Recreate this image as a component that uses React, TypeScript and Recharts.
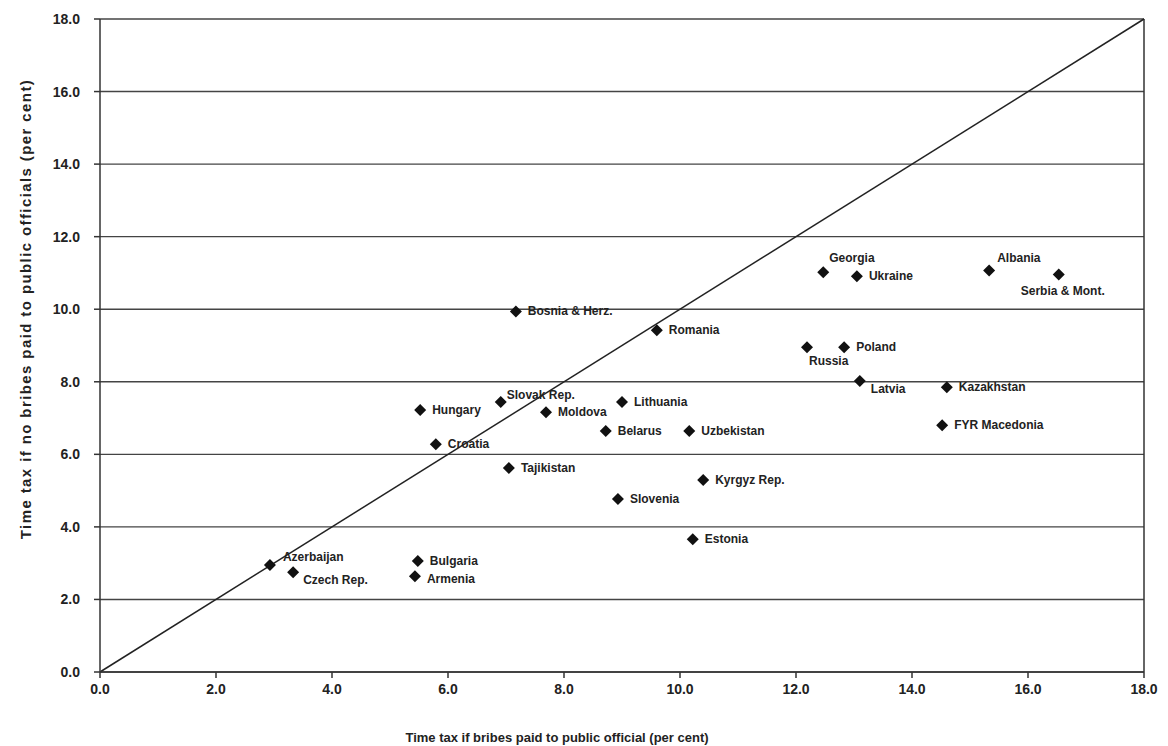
import React from 'react';
import {
  ScatterChart,
  Scatter,
  XAxis,
  YAxis,
  CartesianGrid,
  ReferenceLine,
} from 'recharts';

const countries = [
  'Azerbaijan', 'Czech Rep.', 'Bulgaria', 'Armenia', 'Hungary', 'Croatia',
  'Slovak Rep.', 'Bosnia & Herz.', 'Tajikistan', 'Moldova', 'Lithuania',
  'Belarus', 'Slovenia', 'Romania', 'Uzbekistan', 'Kyrgyz Rep.', 'Estonia',
  'Georgia', 'Ukraine', 'Russia', 'Poland', 'Latvia', 'Kazakhstan',
  'FYR Macedonia', 'Albania', 'Serbia & Mont.',
];

// time tax if bribes paid (x)
const withBribes = [
  2.93, 3.33, 5.48, 5.43, 5.52, 5.79, 6.91, 7.17, 7.05, 7.69, 9.0, 8.72,
  8.93, 9.6, 10.16, 10.4, 10.22, 12.47, 13.05, 12.19, 12.83, 13.1, 14.6,
  14.52, 15.33, 16.53,
];

// time tax if no bribes paid (y)
const withoutBribes = [
  2.95, 2.75, 3.06, 2.64, 7.22, 6.28, 7.44, 9.94, 5.62, 7.16, 7.44, 6.64,
  4.77, 9.42, 6.64, 5.29, 3.66, 11.02, 10.91, 8.95, 8.95, 8.02, 7.85, 6.8,
  11.07, 10.96,
];

const ticks = [0, 2, 4, 6, 8, 10, 12, 14, 16, 18];

// label placement relative to the marker (dx, dy)
const labelPos: Record<string, [number, number]> = {
  Azerbaijan: [13, -4],
  'Czech Rep.': [10, 12],
  Armenia: [12, 7],
  'Slovak Rep.': [6, -3],
  Georgia: [6, -10],
  Albania: [8, -8],
  'Serbia & Mont.': [-38, 21],
  Russia: [2, 18],
  Latvia: [11, 12],
};

const data = countries.map((name, i) => ({
  name,
  x: withBribes[i],
  y: withoutBribes[i],
}));

const fmt = (v: number) => v.toFixed(1);
const FONT = 'Liberation Sans, Arial, sans-serif';

const Diamond = (props: any) => {
  const { cx, cy, payload } = props;
  const [dx, dy] = labelPos[payload.name] || [12, 4];
  const r = 6;
  return (
    <g>
      <polygon
        points={`${cx},${cy - r} ${cx + r},${cy} ${cx},${cy + r} ${cx - r},${cy}`}
        fill="#111"
      />
      <text
        x={cx + dx}
        y={cy + dy}
        fontSize={12}
        fontWeight="bold"
        fill="#222"
        fontFamily={FONT}
      >
        {payload.name}
      </text>
    </g>
  );
};

const tickStyle = {
  fontSize: 14,
  fontWeight: 'bold',
  fill: '#222',
  fontFamily: FONT,
};

const YTitle = () => (
  <text
    x={25}
    y={309}
    transform="rotate(-90, 25, 309)"
    textAnchor="middle"
    dominantBaseline="central"
    fontSize={15}
    fontWeight="bold"
    fill="#222"
    fontFamily={FONT}
    letterSpacing={1.4}
  >
    Time tax if no bribes paid to public officials (per cent)
  </text>
);

export default function App() {
  return (
    <div style={{ position: 'absolute', left: 0, top: 0, background: '#fff' }}>
      <ScatterChart
        width={1168}
        height={746}
        margin={{ top: 19, right: 24, bottom: 0, left: 0 }}
      >
        <CartesianGrid vertical={false} stroke="#444" strokeWidth={1.4} />
        <XAxis
          type="number"
          dataKey="x"
          domain={[0, 18]}
          ticks={ticks}
          tickFormatter={fmt}
          height={74}
          tick={tickStyle}
          tickSize={6}
          tickMargin={6}
          stroke="#333"
          strokeWidth={1.5}
          label={{
            value: 'Time tax if bribes paid to public official (per cent)',
            position: 'insideBottom',
            offset: 4,
            dx: -65,
            style: { ...tickStyle, fontSize: 13 },
          }}
        />
        <YAxis
          type="number"
          dataKey="y"
          domain={[0, 18]}
          ticks={ticks}
          tickFormatter={fmt}
          width={100}
          tick={tickStyle}
          tickSize={6}
          tickMargin={14}
          stroke="#333"
          strokeWidth={1.5}
          label={{ content: YTitle }}
        />
        <ReferenceLine x={18} stroke="#333" strokeWidth={1.5} />
        <ReferenceLine
          segment={[
            { x: 0, y: 0 },
            { x: 18, y: 18 },
          ]}
          stroke="#222"
          strokeWidth={1.5}
        />
        <Scatter data={data} shape={Diamond} isAnimationActive={false} />
      </ScatterChart>
    </div>
  );
}
